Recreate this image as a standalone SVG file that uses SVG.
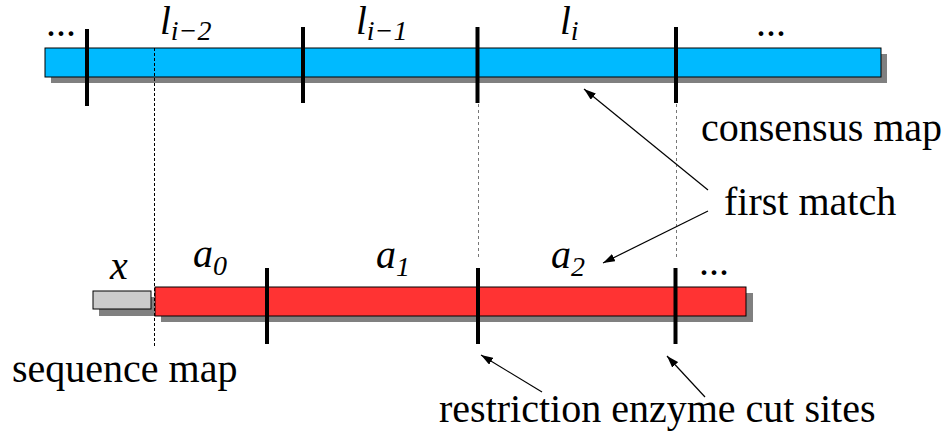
<svg xmlns="http://www.w3.org/2000/svg" width="947" height="441" viewBox="0 0 947 441">
<defs>
<marker id="ah" viewBox="0 0 12 8" refX="12" refY="4" markerWidth="12" markerHeight="8" markerUnits="userSpaceOnUse" orient="auto">
<path d="M0,0 L12,4 L0,8 Z" fill="#000"/>
</marker>
</defs>
<style>
.t{font-family:"Liberation Serif","Times New Roman",serif;font-size:40px;fill:#000}
.i{font-family:"Liberation Serif","Times New Roman",serif;font-style:italic;fill:#000}
.shadow{fill:#808080}
.cut{stroke:#000;stroke-width:4}
.dash{stroke:#000;stroke-width:1;stroke-dasharray:3,2;fill:none}
.dashg{stroke:#777;stroke-width:1;stroke-dasharray:3,3;fill:none}
.arr{stroke:#000;stroke-width:1.2;fill:none;marker-end:url(#ah)}
</style>
<rect width="947" height="441" fill="#fff"/>
<g id="consensus-map">
<rect class="shadow" x="51" y="54" width="836" height="29"/>
<rect x="45" y="48" width="836" height="29" fill="#00BAFF" stroke="#000" stroke-width="1"/>
</g>
<g id="sequence-map">
<rect class="shadow" x="99" y="297" width="55" height="19"/>
<rect x="93" y="291" width="58" height="18" fill="#CCCCCC" stroke="#000" stroke-width="1"/>
<rect class="shadow" x="161" y="293" width="592" height="29"/>
<rect x="155" y="287" width="591" height="29" fill="#FF3333" stroke="#000" stroke-width="1"/>
</g>
<g id="guides">
<line class="dash" x1="154.5" y1="48" x2="154.5" y2="347"/>
<line class="dashg" x1="478.5" y1="104" x2="478.5" y2="258"/>
<line class="dashg" x1="676.5" y1="104" x2="676.5" y2="258"/>
</g>
<g id="cut-sites">
<line class="cut" x1="87" y1="29" x2="87" y2="106"/>
<line class="cut" x1="303" y1="27" x2="303" y2="103"/>
<line class="cut" x1="477.5" y1="27" x2="477.5" y2="103"/>
<line class="cut" x1="676" y1="27" x2="676" y2="103"/>
<line class="cut" x1="267" y1="268" x2="267" y2="344"/>
<line class="cut" x1="478" y1="268" x2="478" y2="344"/>
<line class="cut" x1="675.5" y1="268" x2="675.5" y2="344"/>
</g>
<g id="labels">
<text class="t" x="46" y="36">...</text>
<text class="t" x="756" y="36">...</text>
<text class="t" x="699" y="275">...</text>
<text class="i" x="160" y="34" font-size="39">l<tspan font-size="28" dy="6">i−2</tspan></text>
<text class="i" x="356" y="34" font-size="39">l<tspan font-size="28" dy="6">i−1</tspan></text>
<text class="i" x="560" y="34" font-size="39">l<tspan font-size="28" dy="6">i</tspan></text>
<text class="i" x="110" y="279" font-size="40">x</text>
<text class="i" x="193" y="267" font-size="40">a<tspan font-size="28" dy="8">0</tspan></text>
<text class="i" x="376" y="268" font-size="40">a<tspan font-size="28" dy="8">1</tspan></text>
<text class="i" x="551" y="268" font-size="40">a<tspan font-size="28" dy="8">2</tspan></text>
<text class="t" x="701" y="141">consensus map</text>
<text class="t" x="724" y="215">first match</text>
<text class="t" x="12" y="382">sequence map</text>
<text class="t" x="439" y="422">restriction enzyme cut sites</text>
</g>
<g id="connectors">
<line class="arr" x1="708" y1="190" x2="584" y2="89"/>
<line class="arr" x1="708" y1="211" x2="603" y2="263"/>
<line class="arr" x1="542" y1="392" x2="481" y2="355"/>
<line class="arr" x1="705" y1="397" x2="667" y2="356"/>
</g>
</svg>
